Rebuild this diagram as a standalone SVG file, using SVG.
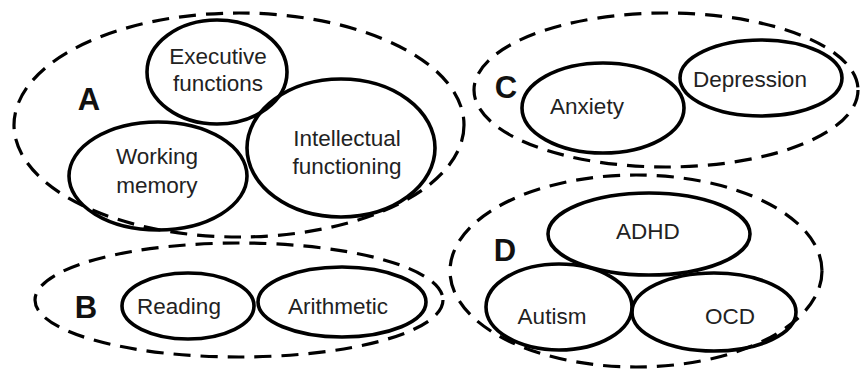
<svg xmlns="http://www.w3.org/2000/svg" width="862" height="369" viewBox="0 0 862 369">
<style>
.grp{fill:none;stroke:#000;stroke-width:3.2;stroke-dasharray:17 10}
.n{fill:none;stroke:#000;stroke-width:3.6}
.t{font-family:"Liberation Sans",Arial,sans-serif;font-size:22.5px;fill:#222;text-anchor:middle}
.l{font-family:"Liberation Sans",Arial,sans-serif;font-size:31px;font-weight:bold;fill:#111;text-anchor:middle}
</style>
<rect width="862" height="369" fill="#fff"/>
<g id="groupA">
<ellipse class="grp" cx="239" cy="125" rx="225" ry="112"/>
<text class="l" x="89" y="110">A</text>
</g>
<g id="groupB">
<ellipse class="grp" cx="239" cy="300" rx="204" ry="57"/>
<text class="l" x="86" y="318">B</text>
</g>
<g id="groupC">
<ellipse class="grp" cx="666" cy="90" rx="192" ry="77"/>
<text class="l" x="506" y="98">C</text>
</g>
<g id="groupD">
<ellipse class="grp" cx="636" cy="271" rx="186" ry="96"/>
<text class="l" x="505" y="261">D</text>
</g>
<g id="executive">
<ellipse class="n" cx="217" cy="72" rx="70" ry="52"/>
<text class="t" x="218" y="64">Executive</text>
<text class="t" x="218" y="91">functions</text>
</g>
<g id="intellectual">
<ellipse class="n" cx="341" cy="148" rx="94" ry="69"/>
<text class="t" x="347" y="146">Intellectual</text>
<text class="t" x="347" y="174">functioning</text>
</g>
<g id="working">
<ellipse class="n" cx="158" cy="176" rx="89" ry="54"/>
<text class="t" x="157" y="164">Working</text>
<text class="t" x="157" y="193">memory</text>
</g>
<g id="reading">
<ellipse class="n" cx="188" cy="306" rx="66" ry="33"/>
<text class="t" x="179" y="314">Reading</text>
</g>
<g id="arithmetic">
<ellipse class="n" cx="342" cy="302" rx="84" ry="35"/>
<text class="t" x="338" y="314">Arithmetic</text>
</g>
<g id="anxiety">
<ellipse class="n" cx="603" cy="108" rx="81" ry="45"/>
<text class="t" x="587" y="114">Anxiety</text>
</g>
<g id="depression">
<ellipse class="n" cx="761" cy="78" rx="81" ry="38"/>
<text class="t" x="750" y="87">Depression</text>
</g>
<g id="adhd">
<ellipse class="n" cx="649" cy="234" rx="101" ry="41"/>
<text class="t" x="648" y="239">ADHD</text>
</g>
<g id="autism">
<ellipse class="n" cx="559" cy="307" rx="73" ry="43"/>
<text class="t" x="552" y="324">Autism</text>
</g>
<g id="ocd">
<ellipse class="n" cx="714" cy="312" rx="82" ry="39"/>
<text class="t" x="730" y="324">OCD</text>
</g>
<g id="connectors"/>
</svg>
